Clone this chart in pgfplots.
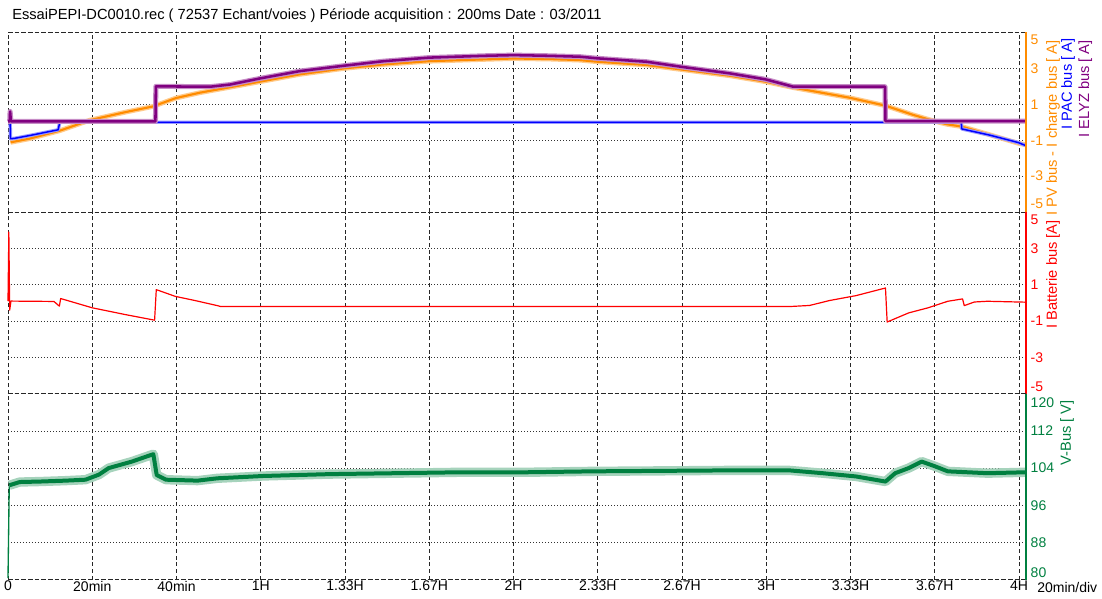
\documentclass[border=0pt]{standalone}
\usepackage{pgfplots}
\pgfplotsset{compat=1.18}
\usepackage{fontspec}
\setmainfont{Liberation Sans}
\definecolor{cOrange}{RGB}{255,140,0}
\definecolor{cBlue}{RGB}{0,0,255}
\definecolor{cPurple}{RGB}{128,0,128}
\definecolor{cRed}{RGB}{255,0,0}
\definecolor{cGreen}{RGB}{0,128,64}
\newcommand{\lblfont}{\fontsize{10.5}{12}\selectfont}
\newcommand{\ylfont}{\fontsize{11}{13}\selectfont}
\tikzset{bnd/.style={black!85, line width=0.6pt, dash pattern=on 3.5pt off 1.5pt}}
\pgfplotsset{
  panel/.style={
    scale only axis, width=763.5pt,
    xmin=0, xmax=241.66,
    xtick={0,20,...,240},
    xmajorgrids, ymajorgrids,
    x grid style={black!85, line width=0.6pt, dash pattern=on 3pt off 2pt},
    y grid style={black!80, line width=0.6pt, dash pattern=on 0.75pt off 1.5pt},
    axis line style={draw=none},
    major tick length=0pt, tick style={draw=none},
    yticklabel pos=right,
    xticklabels={},
    ticklabel style={font=\lblfont},
    xticklabel style={inner sep=1pt},
    /pgf/number format/assume math mode=true,
    extra y tick style={grid=none},
    clip=false,
    anchor=north west,
  },
}
\begin{document}
\begin{tikzpicture}
\path[use as bounding box] (0,0) rectangle (826.5pt,-449.25pt);
\node[anchor=base west, font=\fontsize{11}{13}\selectfont, inner sep=0] at (9pt,-14.6pt)
  {EssaiPEPI-DC0010.rec ( 72537 Echant/voies ) Période acquisition : 200ms Date : 03/2011};

% ---------------- Panel 1 ----------------
\begin{axis}[panel, at={(6pt,-24.375pt)}, height=134.625pt,
  ymin=-5, ymax=5, ytick={-3,-1,1,3},
  extra y ticks={-4.55,4.6}, extra y tick labels={-5,5},
  yticklabel style={text=cOrange}]
\addplot[cOrange!45, line width=3.6pt, line join=round] coordinates {
(0.6,-1.12) (5,-0.92) (12.3,-0.47) (19.5,0.12) (28,0.57) (34.4,0.88) (39.9,1.35) (45.6,1.65) (52.7,1.95) (59.8,2.26) (69.3,2.67) (79.8,3.00) (89.1,3.22) (99.9,3.40) (112.8,3.50) (120,3.55) (128.7,3.52) (135.8,3.46) (140,3.37) (151.6,3.19) (159.8,2.94) (171.4,2.59) (179.8,2.26) (186.4,1.93) (199.7,1.37) (208.2,0.93) (214.9,0.41) (219.8,0.07) (222.8,-0.11) (226.4,-0.24) (233.1,-0.70) (239.8,-1.17) (241.6,-1.25)};
\addplot[cOrange, line width=1.6pt, line join=round] coordinates {
(0.6,-1.12) (5,-0.92) (12.3,-0.47) (19.5,0.12) (28,0.57) (34.4,0.88) (39.9,1.35) (45.6,1.65) (52.7,1.95) (59.8,2.26) (69.3,2.67) (79.8,3.00) (89.1,3.22) (99.9,3.40) (112.8,3.50) (120,3.55) (128.7,3.52) (135.8,3.46) (140,3.37) (151.6,3.19) (159.8,2.94) (171.4,2.59) (179.8,2.26) (186.4,1.93) (199.7,1.37) (208.2,0.93) (214.9,0.41) (219.8,0.07) (222.8,-0.11) (226.4,-0.24) (233.1,-0.70) (239.8,-1.17) (241.6,-1.25)};
\addplot[cBlue!40, line width=2.6pt, line join=round] coordinates {
(0,0.05) (0.5,0.05) (0.6,-0.92) (1.5,-0.9) (6,-0.7) (11.9,-0.42) (12.3,0.0) (226.3,0.0) (226.4,-0.37) (233.1,-0.72) (239.8,-1.13) (241.6,-1.3)};
\addplot[cBlue, line width=1.1pt, line join=round] coordinates {
(0,0.05) (0.5,0.05) (0.6,-0.92) (1.5,-0.9) (6,-0.7) (11.9,-0.42) (12.3,0.0) (226.3,0.0) (226.4,-0.37) (233.1,-0.72) (239.8,-1.13) (241.6,-1.3)};
\addplot[cPurple!45, line width=3.8pt, line join=round] coordinates {
(0,0.05) (0.4,0.05) (0.5,0.6) (0.7,0.05) (35.0,0.05) (35.1,2.0) (48,1.98) (52.7,2.1) (59.8,2.44) (69.3,2.85) (79.8,3.15) (89.1,3.4) (99.9,3.6) (112.8,3.7) (120,3.74) (128.7,3.70) (135.8,3.65) (140,3.56) (151.6,3.37) (159.8,3.09) (171.4,2.72) (179.8,2.39) (186.4,1.98) (208.2,1.98) (208.3,0.06) (241.6,0.06)};
\addplot[cPurple, line width=1.9pt, line join=round] coordinates {
(0,0.05) (0.4,0.05) (0.5,0.6) (0.7,0.05) (35.0,0.05) (35.1,2.0) (48,1.98) (52.7,2.1) (59.8,2.44) (69.3,2.85) (79.8,3.15) (89.1,3.4) (99.9,3.6) (112.8,3.7) (120,3.74) (128.7,3.70) (135.8,3.65) (140,3.56) (151.6,3.37) (159.8,3.09) (171.4,2.72) (179.8,2.39) (186.4,1.98) (208.2,1.98) (208.3,0.06) (241.6,0.06)};
\draw[bnd] (rel axis cs:0,1) -- (rel axis cs:1,1);
\draw[bnd] (rel axis cs:0,0) -- (rel axis cs:1,0);
\draw[cOrange, line width=1pt] (rel axis cs:1,0) -- (rel axis cs:1,1);
\node[rotate=90, anchor=east, text=cOrange, font=\ylfont, inner sep=0] at ([xshift=20.25pt, yshift=-5.6pt]rel axis cs:1,1) {I PV bus - I charge bus [ A]};
\node[rotate=90, anchor=east, text=cBlue, font=\ylfont, inner sep=0] at ([xshift=31.5pt, yshift=-4.3pt]rel axis cs:1,1) {I PAC bus [ A]};
\node[rotate=90, anchor=east, text=cPurple, font=\ylfont, inner sep=0] at ([xshift=44.5pt, yshift=-5.6pt]rel axis cs:1,1) {I ELYZ bus [ A]};
\end{axis}

% ---------------- Panel 2 ----------------
\begin{axis}[panel, at={(6pt,-159pt)}, height=136.35pt,
  ymin=-5, ymax=5, ytick={-3,-1,1,3},
  extra y ticks={-4.6,4.55}, extra y tick labels={-5,5},
  yticklabel style={text=cRed}]
\addplot[cRed, line width=0.9pt, line join=round] coordinates {
(0,0.1) (0.2,3.9) (0.4,-0.4) (0.7,0.1) (10.9,0.08) (12.2,-0.18) (12.5,0.24) (20,-0.27) (27.8,-0.64) (34.8,-0.95) (35.2,0.73) (39.7,0.36) (44.4,0.13) (49.7,-0.15) (50.5,-0.2) (185.6,-0.2) (190.3,-0.14) (195,0.13) (201.3,0.4) (208.3,0.82) (208.7,-1.05) (213.8,-0.55) (218.4,-0.27) (223.1,0.09) (226.6,0.22) (227.0,-0.15) (229.4,0.05) (232.5,0.09) (241.6,0.04)};
\draw[bnd] (rel axis cs:0,1) -- (rel axis cs:1,1);
\draw[bnd] (rel axis cs:0,0) -- (rel axis cs:1,0);
\draw[cRed, line width=1pt] (rel axis cs:1,0) -- (rel axis cs:1,1);
\node[rotate=90, anchor=east, text=cRed, font=\ylfont, inner sep=0] at ([xshift=20.25pt, yshift=-6pt]rel axis cs:1,1) {I Batterie bus [A]};
\end{axis}

% ---------------- Panel 3 ----------------
\begin{axis}[panel, at={(6pt,-295.35pt)}, height=139.3pt,
  ymin=80, ymax=120, ytick={88,96,104,112},
  extra y ticks={81.5,118}, extra y tick labels={80,120},
  yticklabel style={text=cGreen},
  xticklabels={0,20min,40min,1H,1.33H,1.67H,2H,2.33H,2.67H,3H,3.33H,3.67H,4H}]
\addplot[cGreen, line width=1pt] coordinates {(0,80.3) (0.3,100.3)};
\addplot[cGreen!35, line width=7pt, line join=round] coordinates {
(0.3,100.3) (2.8,101) (7.5,101.1) (13.75,101.3) (18.4,101.5) (21.6,102.6) (23.9,104) (29.4,105.4) (34.5,107.0) (35.3,102.5) (37.5,101.5) (45,101.3) (49.7,101.8) (60.6,102.3) (76.3,102.7) (91.9,102.9) (107.5,103.1) (123.1,103.1) (138.8,103.3) (154.4,103.4) (170,103.5) (185.6,103.5) (193.4,102.9) (201.3,102.2) (208.3,101.1) (210.6,102.9) (213.8,104) (216.9,105.4) (220,104.4) (223.1,103.3) (232.5,102.9) (241.6,103.1)};
\addplot[cGreen, line width=3pt, line join=round] coordinates {
(0.3,100.3) (2.8,101) (7.5,101.1) (13.75,101.3) (18.4,101.5) (21.6,102.6) (23.9,104) (29.4,105.4) (34.5,107.0) (35.3,102.5) (37.5,101.5) (45,101.3) (49.7,101.8) (60.6,102.3) (76.3,102.7) (91.9,102.9) (107.5,103.1) (123.1,103.1) (138.8,103.3) (154.4,103.4) (170,103.5) (185.6,103.5) (193.4,102.9) (201.3,102.2) (208.3,101.1) (210.6,102.9) (213.8,104) (216.9,105.4) (220,104.4) (223.1,103.3) (232.5,102.9) (241.6,103.1)};
\draw[bnd] (rel axis cs:0,1) -- (rel axis cs:1,1);
\draw[bnd] (rel axis cs:0,0) -- (rel axis cs:1,0);
\draw[cGreen, line width=1pt] (rel axis cs:1,0) -- (rel axis cs:1,1);
\node[rotate=90, anchor=east, text=cGreen, font=\ylfont, inner sep=0] at ([xshift=30.75pt, yshift=-4.7pt]rel axis cs:1,1) {V-Bus [ V]};
\node[anchor=base west, font=\lblfont, inner sep=0] at ([xshift=8.25pt, yshift=-9.4pt]rel axis cs:1,0) {20min/div};
\end{axis}
\end{tikzpicture}
\end{document}
